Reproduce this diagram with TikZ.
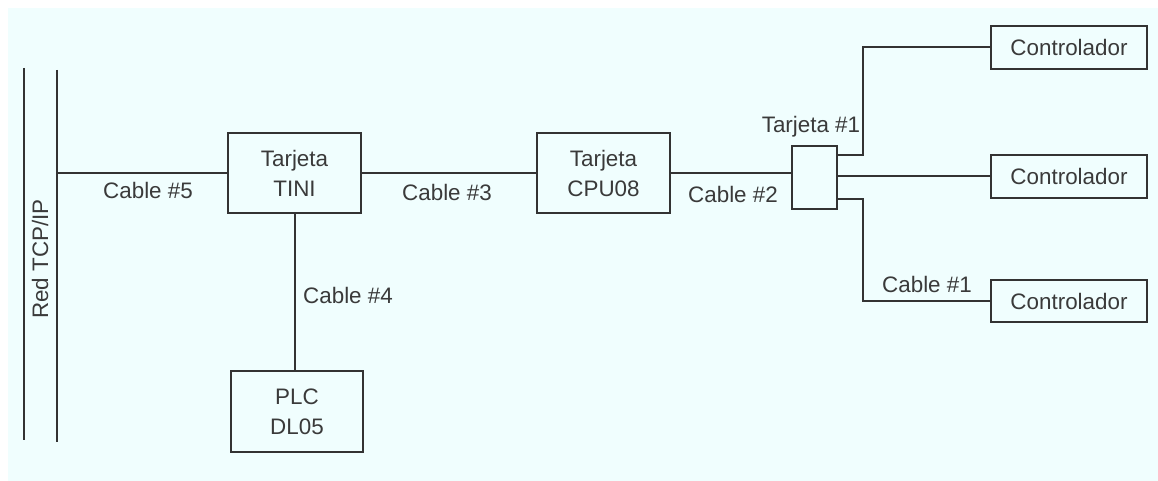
\documentclass[tikz,border=0pt]{standalone}
\usepackage{fontspec}
\setmainfont{Liberation Sans}
\definecolor{bgc}{HTML}{F0FEFE}
\definecolor{ln}{HTML}{333333}
\definecolor{tx}{HTML}{3A3A3A}
\begin{document}
\begin{tikzpicture}[x=0.5pt,y=-0.5pt,
  box/.style={draw=ln,line width=1pt,inner sep=0pt,minimum width=#1},
  wire/.style={draw=ln,line width=1pt},
  lbl/.style={text=tx,inner sep=0pt,font=\fontsize{11.2}{12.5}\selectfont},
  boxtxt/.style={text=tx,font=\fontsize{11.2}{15}\selectfont,align=center}]
\useasboundingbox (0,0) rectangle (1158,481);
\fill[white] (0,0) rectangle (1158,481);
\fill[bgc] (8,8) rectangle (1158,481);
% network bus
\coordinate (b1t) at (24,68); \coordinate (b1b) at (24,440);
\coordinate (b2t) at (57,70); \coordinate (b2b) at (57,442);
\draw[wire] (b1t) -- (b1b);
\draw[wire] (b2t) -- (b2b);
\node[lbl,rotate=90] (red) at (40,259) {Red TCP/IP};
% boxes
\node[box=66.5pt,minimum height=40pt,boxtxt] (tini) at (294.5,173) {Tarjeta\\TINI};
\node[box=66pt,minimum height=40.5pt,boxtxt] (plc) at (297,411.5) {PLC\\DL05};
\node[box=66.5pt,minimum height=40pt,boxtxt] (cpu) at (603.5,173) {Tarjeta\\CPU08};
\node[box=22.5pt,minimum height=31.5pt] (sw) at (814.5,177.5) {};
\node[box=78pt,minimum height=21.5pt,boxtxt] (c1) at (1069,47.5) {Controlador};
\node[box=78pt,minimum height=21.5pt,boxtxt] (c2) at (1069,176.5) {Controlador};
\node[box=78pt,minimum height=21pt,boxtxt] (c3) at (1069,301) {Controlador};
% connectors
\coordinate (j5) at (57,173);
\coordinate (k1) at (863,155);
\coordinate (k3) at (863,199);
\draw[wire] (j5) -- (tini.west);
\draw[wire] (tini.south) -- (plc.north -| tini.south);
\draw[wire] (tini.east) -- (cpu.west);
\draw[wire] (cpu.east) -- (cpu.east -| sw.west);
\draw[wire] (k1 -| sw.east) -- (k1) |- (c1.west);
\draw[wire] (sw.east |- c2.west) -- (c2.west);
\draw[wire] (k3 -| sw.east) -- (k3) |- (c3.west);
% labels
\node[lbl] (l5) at (148,190) {Cable \#5};
\node[lbl] (l4) at (348,295) {Cable \#4};
\node[lbl] (l3) at (447,192) {Cable \#3};
\node[lbl] (l2) at (733,194) {Cable \#2};
\node[lbl] (t1) at (811,127) {Tarjeta \#1};
\node[lbl] (l1) at (927,284) {Cable \#1};
\end{tikzpicture}
\end{document}
